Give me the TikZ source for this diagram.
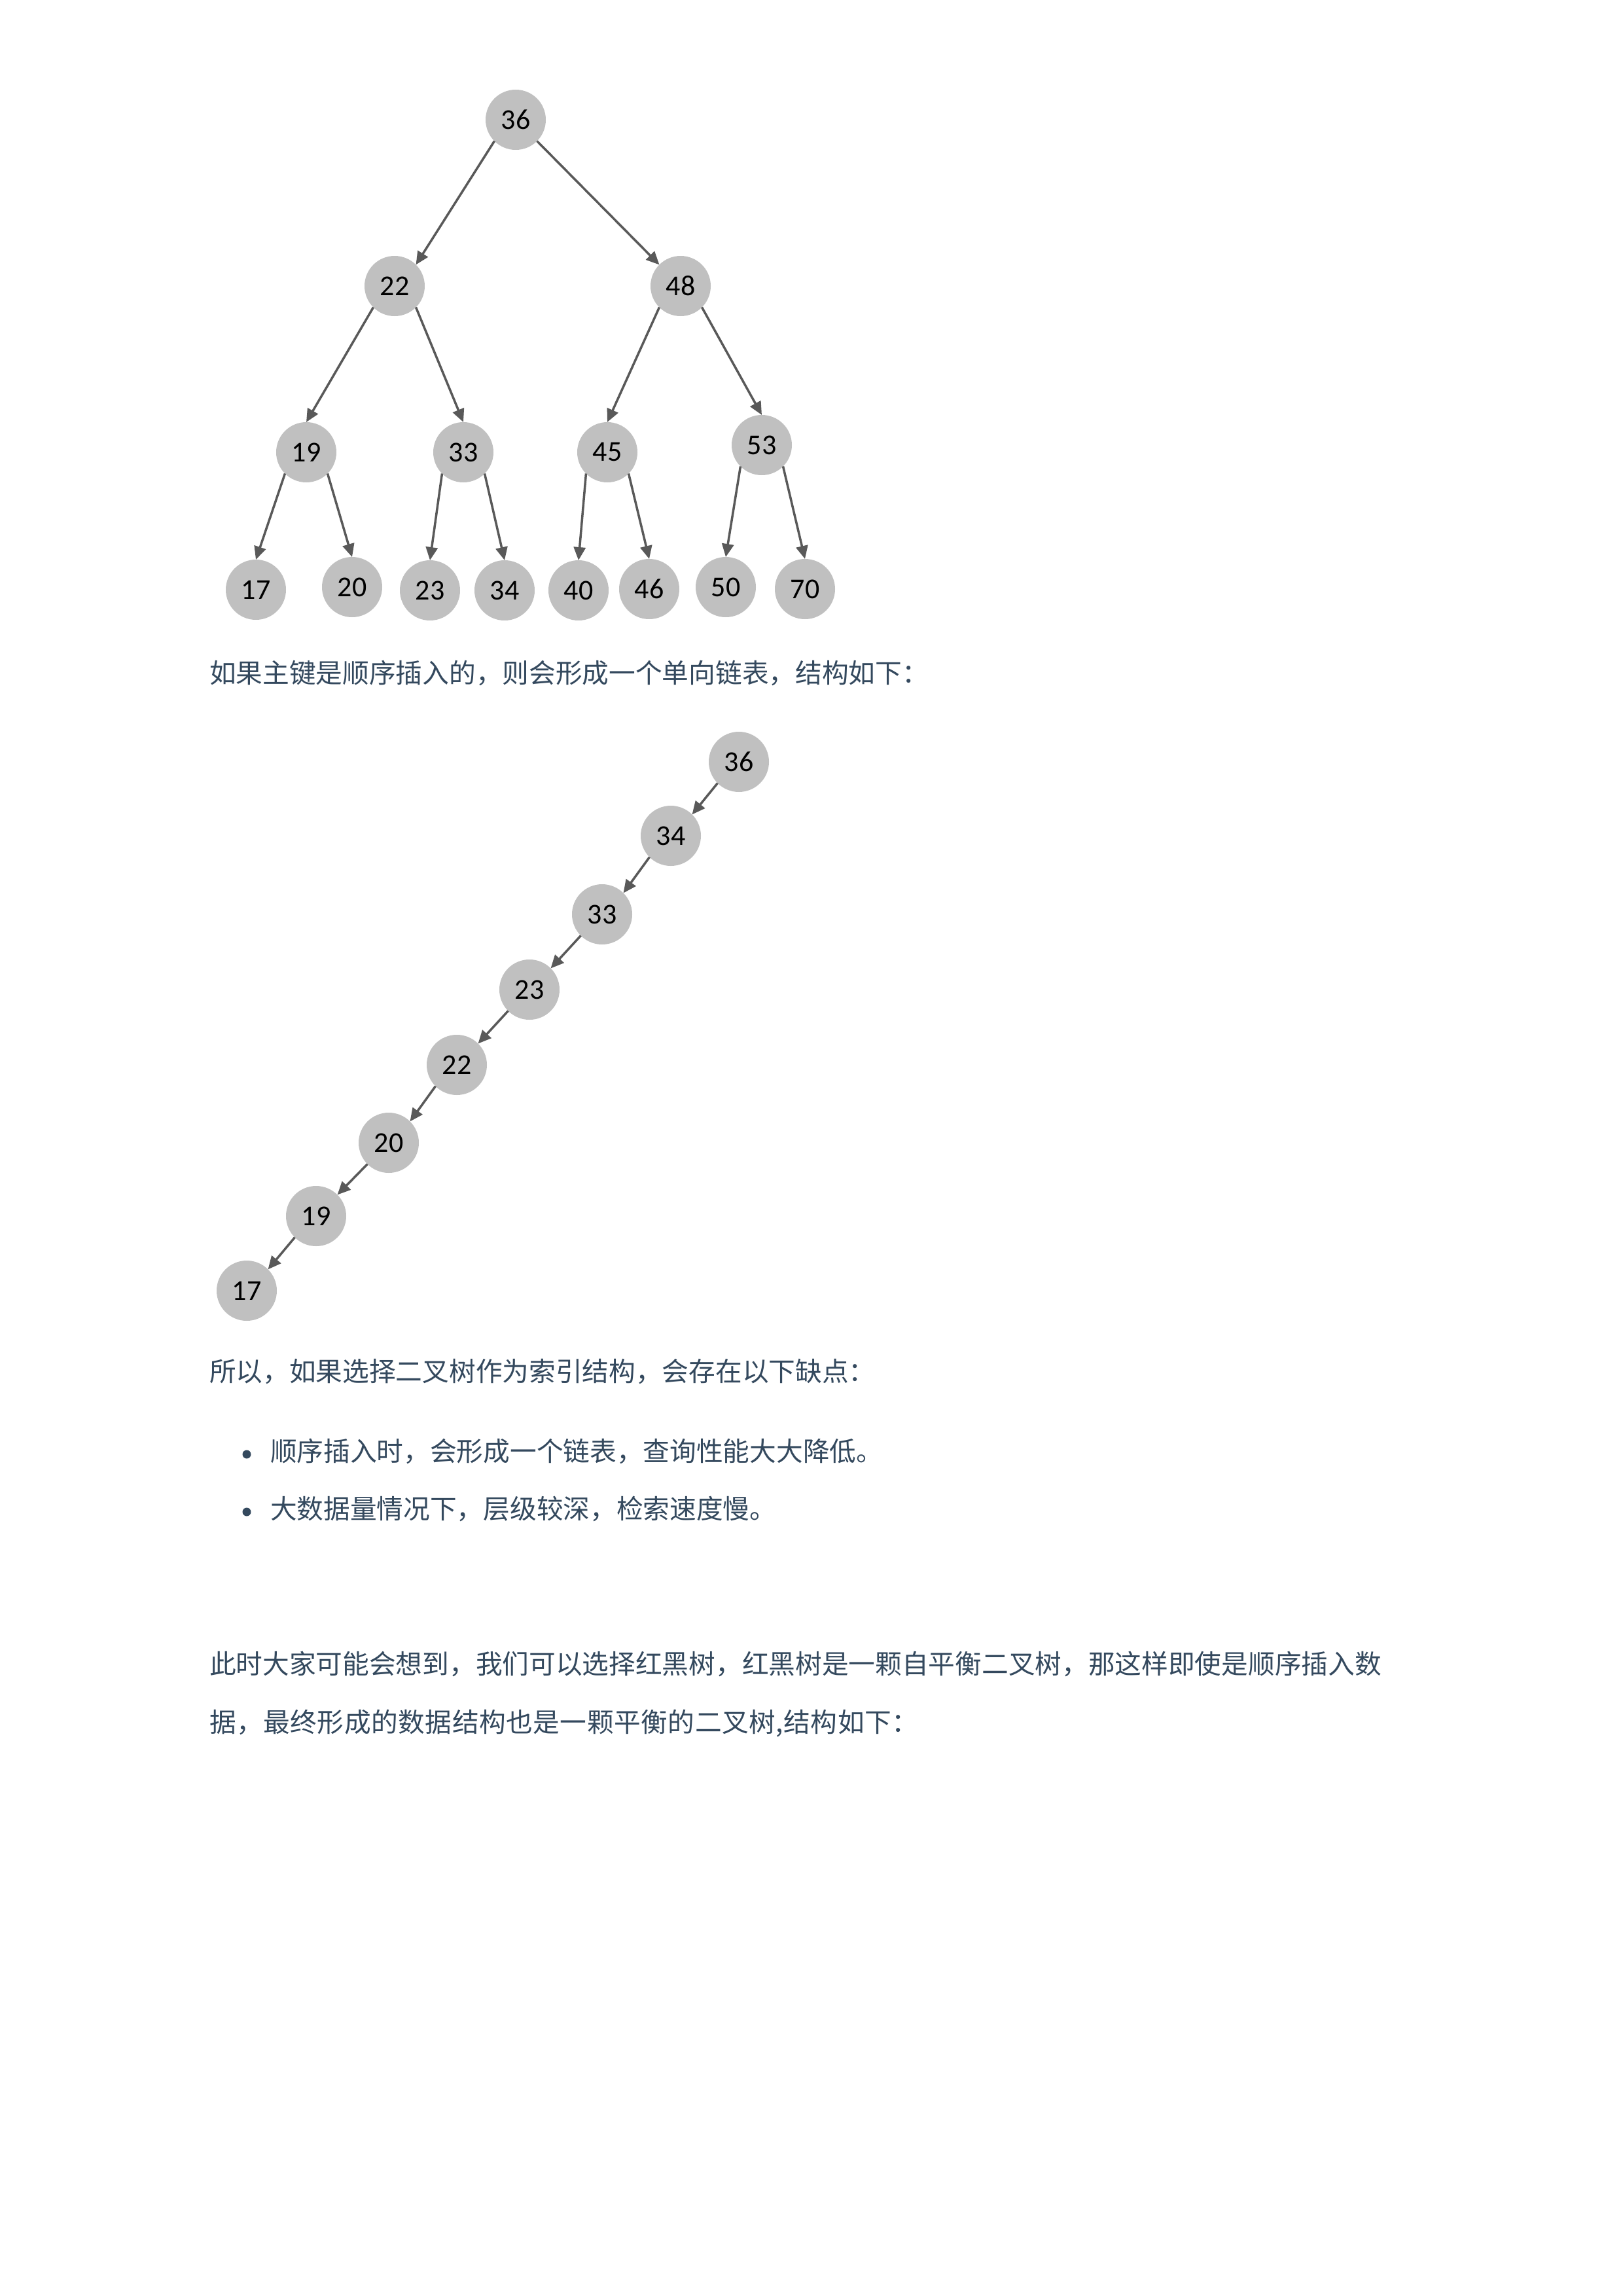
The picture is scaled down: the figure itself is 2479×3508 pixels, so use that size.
\documentclass[tikz,border=0pt]{standalone}
\usepackage{fontspec}
\setmainfont{Carlito}
\newfontfamily\cjkfont{Noto Sans CJK SC}
\usetikzlibrary{arrows.meta}
\definecolor{txtcol}{RGB}{52,73,94}
\definecolor{nodefill}{RGB}{192,192,192}
\definecolor{edgecol}{RGB}{89,89,89}
\begin{document}
\begin{tikzpicture}[x=1pt,y=-1pt,
  tnode/.style={circle,fill=nodefill,minimum size=92pt,inner sep=0pt,outer sep=0pt,font=\fontsize{44}{44}\selectfont,text=black},
  arr/.style={draw=edgecol,line width=3.5pt,-{Triangle[length=20pt,width=18pt]}},
  para/.style={anchor=base west,inner sep=0pt,outer sep=0pt,text=txtcol,font=\cjkfont\fontsize{40.7}{48}\selectfont},
  bulletdot/.style={circle,fill=txtcol,minimum size=13pt,inner sep=0pt}]
\path[fill=white] (0,0) rectangle (2479,3508);
\useasboundingbox (0,0) rectangle (2479,3508);

% ---- balanced tree ----
\node[tnode] (a36) at (788,183) {36};
\node[tnode] (a22) at (603,437) {22};
\node[tnode] (a48) at (1040,437) {48};
\node[tnode] (a19) at (468,691) {19};
\node[tnode] (a33) at (708,691) {33};
\node[tnode] (a45) at (928,691) {45};
\node[tnode] (a53) at (1164,680) {53};
\node[tnode] (a17) at (391,901) {17};
\node[tnode] (a20) at (538,897) {20};
\node[tnode] (a23) at (657,902) {23};
\node[tnode] (a34) at (771,902) {34};
\node[tnode] (a40) at (884,902) {40};
\node[tnode] (a46) at (992,900) {46};
\node[tnode] (a50) at (1109,897) {50};
\node[tnode] (a70) at (1230,900) {70};

\draw[arr] (a36.south west) -- (a22.north east);
\draw[arr] (a36.south east) -- (a48.north west);
\draw[arr] (a22.south west) -- (a19.north);
\draw[arr] (a22.south east) -- (a33.north);
\draw[arr] (a48.south west) -- (a45.north);
\draw[arr] (a48.south east) -- (a53.north);
\draw[arr] (a19.south west) -- (a17.north);
\draw[arr] (a19.south east) -- (a20.north);
\draw[arr] (a33.south west) -- (a23.north);
\draw[arr] (a33.south east) -- (a34.north);
\draw[arr] (a45.south west) -- (a40.north);
\draw[arr] (a45.south east) -- (a46.north);
\draw[arr] (a53.south west) -- (a50.north);
\draw[arr] (a53.south east) -- (a70.north);

\node[para] (t1) at (320,1043.5) {如果主键是顺序插入的，则会形成一个单向链表，结构如下：};

% ---- degenerate chain ----
\node[tnode] (b36) at (1129,1164) {36};
\node[tnode] (b34) at (1025,1277) {34};
\node[tnode] (b33) at (920,1397) {33};
\node[tnode] (b23) at (809,1512) {23};
\node[tnode] (b22) at (698,1627) {22};
\node[tnode] (b20) at (594,1746) {20};
\node[tnode] (b19) at (483,1858) {19};
\node[tnode] (b17) at (377,1972) {17};

\draw[arr] (b36.south west) -- (b34.north east);
\draw[arr] (b34.south west) -- (b33.north east);
\draw[arr] (b33.south west) -- (b23.north east);
\draw[arr] (b23.south west) -- (b22.north east);
\draw[arr] (b22.south west) -- (b20.north east);
\draw[arr] (b20.south west) -- (b19.north east);
\draw[arr] (b19.south west) -- (b17.north east);

\node[para] (t2) at (320,2110.5) {所以，如果选择二叉树作为索引结构，会存在以下缺点：};
\node[bulletdot] (d1) at (377,2222) {};
\node[para] (t3) at (413,2232.5) {顺序插入时，会形成一个链表，查询性能大大降低。};
\node[bulletdot] (d2) at (377,2310) {};
\node[para] (t4) at (413,2320.5) {大数据量情况下，层级较深，检索速度慢。};

\node[para] (t5) at (320,2557.5) {此时大家可能会想到，我们可以选择红黑树，红黑树是一颗自平衡二叉树，那这样即使是顺序插入数};
\node[para] (t6) at (320,2646.5) {\addfontfeature{LetterSpace=1.3}据，最终形成的数据结构也是一颗平衡的二叉树,结构如下：};
\end{tikzpicture}
\end{document}
